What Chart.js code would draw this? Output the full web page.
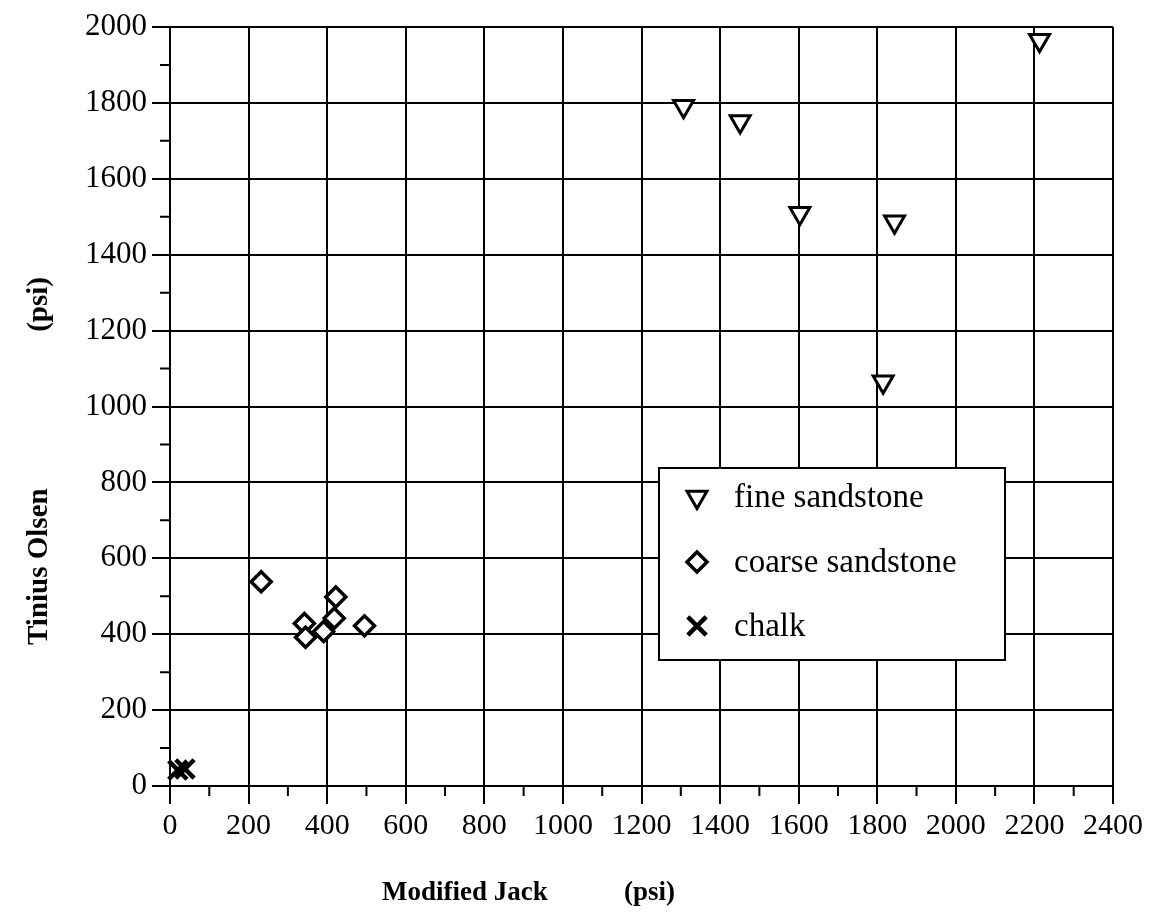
<!DOCTYPE html>
<html>
<head>
<meta charset="utf-8">
<script src="https://cdn.jsdelivr.net/npm/chart.js@4/dist/chart.umd.min.js"></script>
<style>
  body { margin: 0; background: #fff; }
  #wrap { width: 1150px; height: 922px; }
</style>
</head>
<body>
<div id="wrap"><canvas id="scatterChart" width="1150" height="922"></canvas></div>
<script>
// values (psi)
const fineJack = [1307, 1451, 1603, 1844, 1815, 2213];
const fineOlsen = [1791, 1751, 1509, 1487, 1065, 1965];

const coarseJack = [232, 342, 345, 391, 422, 418, 495];
const coarseOlsen = [538, 428, 392, 407, 498, 442, 422];

const chalkJack = [20, 38];
const chalkOlsen = [42, 45];

const SERIES = ['fine sandstone', 'coarse sandstone', 'chalk'];
const xTicks = [0, 200, 400, 600, 800, 1000, 1200, 1400, 1600, 1800, 2000, 2200, 2400];
const yTicks = [0, 200, 400, 600, 800, 1000, 1200, 1400, 1600, 1800, 2000];

function toPoints(xs, ys) {
    return xs.map(function (x, i) { return {x: x, y: ys[i]}; });
}

Chart.defaults.font.family = '"Liberation Serif", "Times New Roman", serif';
Chart.defaults.color = '#000';

// short unlabeled ticks between the labeled ones
const minorTicks = {
    id: 'minorTicks',
    afterDraw: function (chart) {
        let ctx = chart.ctx;
        let area = chart.chartArea;
        let xs = chart.scales.x, ys = chart.scales.y;
        ctx.save();
        ctx.strokeStyle = '#000';
        ctx.lineWidth = 2;
        ctx.beginPath();
        for (let i = 0; i < xTicks.length - 1; i++) {
            let px = xs.getPixelForValue((xTicks[i] + xTicks[i + 1]) / 2);
            ctx.moveTo(px, area.bottom);
            ctx.lineTo(px, area.bottom + 10);
        }
        for (let i = 0; i < yTicks.length - 1; i++) {
            let py = ys.getPixelForValue((yTicks[i] + yTicks[i + 1]) / 2);
            ctx.moveTo(area.left, py);
            ctx.lineTo(area.left - 10, py);
        }
        ctx.stroke();
        ctx.restore();
    }
};

// axis titles, placed like the original
const axisTitles = {
    id: 'axisTitles',
    afterDraw: function (chart) {
        let ctx = chart.ctx;
        ctx.save();
        ctx.fillStyle = '#000';
        ctx.font = 'bold 27px "Liberation Serif", serif';
        ctx.textBaseline = 'middle';
        ctx.textAlign = 'left';
        ctx.fillText('Modified Jack', 382, 893);
        ctx.fillText('(psi)', 624, 893);

        ctx.font = 'bold 29px "Liberation Serif", serif';
        ctx.translate(40, 0);
        ctx.rotate(-Math.PI / 2);
        ctx.textAlign = 'left';
        ctx.fillText('Tinius Olsen', -645, 0);
        ctx.textAlign = 'right';
        ctx.fillText('(psi)', -277, 0);
        ctx.restore();
    }
};

// boxed legend sitting inside the plot
const boxLegend = {
    id: 'boxLegend',
    afterDraw: function (chart) {
        let ctx = chart.ctx;
        let box = {left: 659, top: 468, width: 346, height: 192};
        ctx.save();
        ctx.fillStyle = '#fff';
        ctx.fillRect(box.left, box.top, box.width, box.height);
        ctx.strokeStyle = '#000';
        ctx.lineWidth = 2;
        ctx.strokeRect(box.left, box.top, box.width, box.height);

        ctx.font = '33px "Liberation Serif", serif';
        ctx.textBaseline = 'middle';
        ctx.textAlign = 'left';
        let rows = [497, 562, 626];
        chart.data.datasets.forEach(function (ds, i) {
            ctx.strokeStyle = '#000';
            ctx.fillStyle = '#fff';
            ctx.lineWidth = ds.borderWidth;
            Chart.helpers.drawPoint(ctx, {
                pointStyle: ds.pointStyle,
                radius: ds.pointRadius,
                rotation: ds.rotation || 0,
                borderWidth: ds.borderWidth
            }, 697, rows[i]);
            ctx.fillStyle = '#000';
            ctx.fillText(ds.label, 734, rows[i] + 1);
        });
        ctx.restore();
    }
};

let ctx = document.getElementById('scatterChart').getContext('2d');

let scatterChart = new Chart(ctx, {
    type: 'scatter',
    data: {
        datasets: [
            {
                label: SERIES[0],
                data: toPoints(fineJack, fineOlsen),
                pointStyle: 'triangle',
                rotation: 180,
                pointRadius: 11.5,
                borderWidth: 3,
                borderColor: '#000',
                backgroundColor: '#fff',
                clip: false
            },
            {
                label: SERIES[1],
                data: toPoints(coarseJack, coarseOlsen),
                pointStyle: 'rectRot',
                pointRadius: 10,
                borderWidth: 3.5,
                borderColor: '#000',
                backgroundColor: '#fff',
                clip: false
            },
            {
                label: SERIES[2],
                data: toPoints(chalkJack, chalkOlsen),
                pointStyle: 'crossRot',
                pointRadius: 13,
                borderWidth: 4.5,
                borderColor: '#000',
                backgroundColor: '#000',
                clip: false
            }
        ]
    },
    options: {
        responsive: false,
        animation: false,
        events: [],
        layout: {
            padding: {left: 0, top: 27, right: 37, bottom: 0}
        },
        plugins: {
            legend: {display: false},
            tooltip: {enabled: false}
        },
        scales: {
            x: {
                type: 'linear',
                min: xTicks[0],
                max: xTicks[xTicks.length - 1],
                afterBuildTicks: function (scale) {
                    scale.ticks = xTicks.map(function (v) { return {value: v}; });
                },
                afterFit: function (scale) { scale.height = 136; },
                ticks: {
                    font: {size: 30},
                    padding: 4,
                    maxRotation: 0,
                    autoSkip: false,
                    callback: function (v) { return String(v); }
                },
                grid: {
                    color: '#000',
                    lineWidth: 2,
                    tickLength: 18,
                    tickColor: '#000'
                },
                border: {display: true, color: '#000', width: 2}
            },
            y: {
                type: 'linear',
                min: yTicks[0],
                max: yTicks[yTicks.length - 1],
                afterBuildTicks: function (scale) {
                    scale.ticks = yTicks.map(function (v) { return {value: v}; });
                },
                afterFit: function (scale) { scale.width = 170; },
                ticks: {
                    font: {size: 31},
                    padding: 5,
                    autoSkip: false,
                    callback: function (v) { return String(v); }
                },
                grid: {
                    color: '#000',
                    lineWidth: 2,
                    tickLength: 18,
                    tickColor: '#000'
                },
                border: {display: true, color: '#000', width: 2}
            }
        }
    },
    plugins: [minorTicks, axisTitles, boxLegend]
});
</script>
</body>
</html>
